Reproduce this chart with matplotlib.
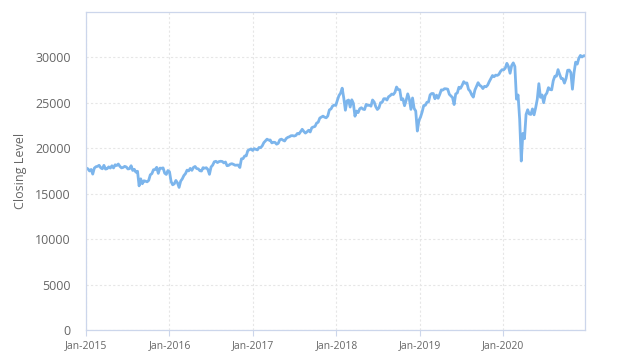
import numpy as np
import pandas as pd
import matplotlib
matplotlib.use('Agg')
import matplotlib.pyplot as plt
import matplotlib.dates as mdates

###############################################################################
# Data (weekly closes)
###############################################################################
START = '2015-01-02'
CLOSE_2015 = [
    17833, 17737, 17511, 17673, 17165,
    17824, 17973, 18019, 18133,
    17856, 17749, 18128, 17713, 17763,
    17958, 17826, 18080, 17841,
    18191, 18105, 18272, 18011,
    17849, 17898, 18015, 17947, 17730,
    17760, 18086, 17568, 17690,
    17373, 17477, 15870, 16643,
    16102, 16433, 16385, 16315, 16472,
    17084, 17216, 17646, 17663,
    17910, 17245, 17824, 17798,
    17847, 17265, 17128, 17552,
]
CLOSE_2016 = [
    17425, 16346, 15988, 16093, 16466,
    16205, 15700, 16392, 16640,
    17006, 17213, 17602, 17515, 17792,
    17577, 17897, 18003, 17774,
    17740, 17535, 17501, 17873,
    17807, 17865, 17675, 17140, 17949,
    18147, 18516, 18571, 18432,
    18543, 18577, 18553, 18395,
    18492, 18085, 18124, 18262, 18308,
    18240, 18138, 18145, 18161,
    17888, 18847, 18868, 19152,
    19170, 19757, 19843, 19933,
]
CLOSE_2017 = [
    19763, 19964, 19885, 19827, 20094,
    20071, 20269, 20624, 20822,
    21005, 20902, 20914, 20596, 20663,
    20656, 20453, 20547, 20940,
    21006, 20896, 20804, 21080,
    21206, 21271, 21384, 21394, 21350,
    21414, 21637, 21580, 21830,
    22092, 21858, 21674, 21813,
    21988, 21797, 22268, 22349, 22405,
    22773, 22871, 23328, 23434,
    23539, 23422, 23358, 23557,
    24231, 24329, 24651, 24754,
]
CLOSE_2018 = [
    24719, 25295, 25803, 26071, 26616,
    25521, 24190, 25219, 25310,
    24538, 25335, 24946, 23533, 24103,
    23933, 24360, 24463, 24311,
    24263, 24831, 24715, 24753,
    24635, 25317, 25090, 24580, 24271,
    24456, 25019, 25058, 25451,
    25463, 25313, 25669, 25790, 25965,
    25916, 26155, 26744, 26458,
    26447, 25340, 25444, 24688,
    25271, 25989, 25413, 24285, 25538,
    24389, 24100, 21900,
]
CLOSE_2019 = [
    23062, 23433, 23996, 24706, 24737,
    25064, 25106, 25883, 26031,
    26026, 25450, 25849, 25502, 25929,
    26425, 26412, 26559, 26543,
    26505, 25942, 25764, 25586, 24815,
    25984, 26090, 26719, 26600,
    26922, 27332, 27154, 27192,
    26485, 26287, 25886, 25629, 26403,
    26797, 27220, 26935, 26820,
    26573, 26817, 26770, 26958,
    27347, 27681, 28005, 27876, 28051,
    28015, 28135, 28455,
]
CLOSE_2020 = [
    28645, 28634, 28824, 29348, 28990, 28256,
    29103, 29398, 28992, 25409,
    25865, 23186, 18600, 21637,
    21053, 23719, 24242, 23775, 23724,
    24331, 23685, 24465, 25383,
    27111, 25606, 25871, 25016, 25827,
    26075, 26672, 26470, 26428,
    27433, 27931, 27930, 28654,
    28133, 27666, 27657, 27174,
    27683, 28587, 28606, 28335, 26502,
    28323, 29479, 29263, 29910,
    30218, 30046, 30179, 30199,
]
CLOSES = (CLOSE_2015 + CLOSE_2016 + CLOSE_2017
          + CLOSE_2018 + CLOSE_2019 + CLOSE_2020)
DATES = pd.date_range(START, periods=len(CLOSES), freq='W-FRI')
Y_TICKS = [0, 5000, 10000, 15000, 20000, 25000, 30000]

###############################################################################
# Plot
###############################################################################
plt.rcParams['font.family'] = ['Open Sans', 'DejaVu Sans']
(fig, ax) = plt.subplots(figsize=(6.24, 3.62), dpi=100)
fig.subplots_adjust(left=0.138, right=0.9375, bottom=0.088, top=0.967)

ax.plot(DATES, CLOSES, color='#7cb5ec', lw=2.0, solid_joinstyle='round')

ax.set_ylim(0, 35000)
ax.set_yticks(Y_TICKS)
ax.set_xlim(pd.Timestamp('2015-01-01'), pd.Timestamp('2020-12-24'))
ax.xaxis.set_major_locator(mdates.YearLocator())
ax.xaxis.set_major_formatter(mdates.DateFormatter('Jan-%Y'))

ax.grid(True, color='#e6e6e6', ls=(0, (2, 2)), lw=0.8)
ax.set_axisbelow(True)
for s in ax.spines.values():
    s.set_color('#ccd6eb')
    s.set_linewidth(0.9)
ax.tick_params(axis='y', length=0, pad=11, labelsize=9, labelcolor='#666666')
ax.tick_params(axis='x', length=4, width=0.8, color='#ccd6eb', pad=3,
               labelsize=7.5, labelcolor='#666666')
ax.set_ylabel('Closing Level', fontsize=9, color='#666666', labelpad=6)

fig.savefig('out.png', dpi=100)
plt.close('all')
